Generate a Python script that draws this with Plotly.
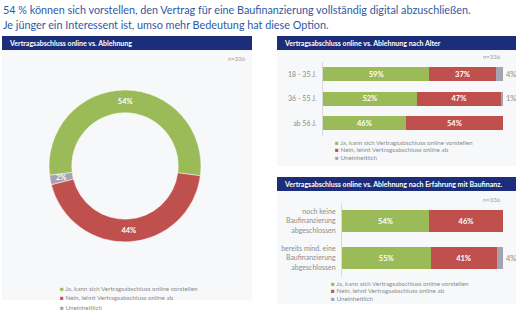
import math
import plotly.graph_objects as go

W, H = 516, 322

# ---- data -------------------------------------------------------------
series_names = [
    "Ja, kann sich Vertragsabschluss online vorstellen",
    "Nein, lehnt Vertragsabschluss online ab",
    "Uneinheitlich",
]
series_colors = ["#9bbb59", "#c0504d", "#a5a3b0"]

total_values = [54, 44, 2]

age_groups = ["18 - 35 J.", "36 - 55 J.", "ab 56 J."]
age_ja = [59, 52, 46]
age_nein = [37, 47, 54]
age_uneinh = [4, 1, 0]

exp_groups = [
    "noch keine<br>Baufinanzierung<br>abgeschlossen",
    "bereits mind. eine<br>Baufinanzierung<br>abgeschlossen",
]
exp_ja = [54, 55]
exp_nein = [46, 41]
exp_uneinh = [0, 4]

title_lines = [
    "54 % können sich vorstellen, den Vertrag für eine Baufinanzierung vollständig digital abzuschließen.",
    "Je jünger ein Interessent ist, umso mehr Bedeutung hat diese Option.",
]
panel_titles = [
    "Vertragsabschluss online vs. Ablehnung",
    "Vertragsabschluss online vs. Ablehnung nach Alter",
    "Vertragsabschluss online vs. Ablehnung nach Erfahrung mit Baufinanz.",
]
sample_label = "n=336"

# ---- helpers ----------------------------------------------------------
FONT = "Lato"
NAVY = "#1c2e79"
PANEL_BG = "#f7f8fa"
GREY_TXT = "#8c8c8c"


def px(x):
    return x / W


def py(y):
    return 1 - y / H


def pct(v):
    return [f"{x}%" if x else "" for x in v]


fig = go.Figure()

# donut geometry (pixels)
DONUT_CX, DONUT_CY, DONUT_R, DONUT_HOLE = 125, 166, 76, 0.70
DONUT_ROT = -97

# the thin last slice gets its label as an annotation so it is not shrunk
pie_texts = ["%{value}%"] * (len(total_values) - 1) + [""]

fig.add_trace(go.Pie(
    values=total_values,
    labels=series_names,
    marker=dict(colors=series_colors, line=dict(color="white", width=0.5)),
    hole=DONUT_HOLE,
    sort=False,
    direction="clockwise",
    rotation=DONUT_ROT,
    texttemplate=pie_texts,
    textposition="inside",
    insidetextorientation="horizontal",
    textfont=dict(family=FONT, size=7.5, color="white", weight="bold"),
    domain=dict(x=[px(DONUT_CX - DONUT_R), px(DONUT_CX + DONUT_R)],
                y=[py(DONUT_CY + DONUT_R), py(DONUT_CY - DONUT_R)]),
    showlegend=False,
    hoverinfo="label+percent",
))


def add_stack(groups, columns, xa, ya):
    for vals, name, col in zip(columns, series_names, series_colors):
        last = name == series_names[-1]
        fig.add_trace(go.Bar(
            y=groups, x=vals, orientation="h", name=name,
            marker=dict(color=col, line=dict(width=0)),
            text=pct(vals),
            textposition="outside" if last else "inside",
            insidetextanchor="middle",
            textfont=dict(family=FONT, size=7.5,
                          color=GREY_TXT if last else "white",
                          weight="normal" if last else "bold"),
            constraintext="none", cliponaxis=False,
            xaxis=xa, yaxis=ya, showlegend=False,
        ))


# stacked bars by age and by experience
add_stack(age_groups, [age_ja, age_nein, age_uneinh], "x", "y")
add_stack(exp_groups, [exp_ja, exp_nein, exp_uneinh], "x2", "y2")

shapes = []
annotations = []

# label of the last donut slice, placed mid-ring at the slice's mid angle
tot = sum(total_values)
mid_frac = (sum(total_values[:-1]) + total_values[-1] / 2) / tot
ang = math.radians(DONUT_ROT + 360 * mid_frac)
r_mid = DONUT_R * (1 + DONUT_HOLE) / 2
annotations.append(dict(xref="paper", yref="paper",
                        x=px(DONUT_CX + r_mid * math.sin(ang)),
                        y=py(DONUT_CY - r_mid * math.cos(ang)),
                        xanchor="center", yanchor="middle", showarrow=False,
                        text=f"<b>{total_values[-1]}%</b>",
                        font=dict(family=FONT, size=7.5, color="white")))

# panel backgrounds and header bars
panels = [
    (2, 252, 36, 300),
    (277, 516, 36, 166),
    (277, 516, 177, 304),
]
for (x0, x1, y0, y1), t in zip(panels, panel_titles):
    shapes.append(dict(type="rect", xref="paper", yref="paper", layer="below",
                       x0=px(x0), x1=px(x1), y0=py(y1), y1=py(y0 + 14),
                       fillcolor=PANEL_BG, line=dict(width=0)))
    shapes.append(dict(type="rect", xref="paper", yref="paper", layer="below",
                       x0=px(x0), x1=px(x1), y0=py(y0 + 14), y1=py(y0),
                       fillcolor=NAVY, line=dict(width=0)))
    annotations.append(dict(xref="paper", yref="paper", x=px(x0 + 5), y=py(y0 + 7),
                            xanchor="left", yanchor="middle", showarrow=False,
                            text=f"<b>{t}</b>",
                            font=dict(family=FONT, size=7, color="white")))

# sample size notes
for x, y in [(248, 58), (503, 56), (503, 199)]:
    annotations.append(dict(xref="paper", yref="paper", x=px(x), y=py(y),
                            xanchor="right", yanchor="middle", showarrow=False,
                            text=sample_label,
                            font=dict(family=FONT, size=6, color="#a0a0a0")))

# headline
for i, line in enumerate(title_lines):
    annotations.append(dict(xref="paper", yref="paper", x=px(1), y=py(10 + 14 * i),
                            xanchor="left", yanchor="middle", showarrow=False,
                            text=line,
                            font=dict(family=FONT, size=10.8, color="#2f5aa3")))

# legends
legend_specs = [(58, 288, 9.5, 6.3), (333, 142, 7.6, 6.3), (329, 283, 7.6, 6.3)]
for lx, ly, step, fs in legend_specs:
    for i, (name, col) in enumerate(zip(series_names, series_colors)):
        annotations.append(dict(xref="paper", yref="paper", x=px(lx), y=py(ly + step * i),
                                xanchor="left", yanchor="middle", showarrow=False,
                                text=f"<span style='color:{col}'>■</span> {name}",
                                font=dict(family=FONT, size=fs, color=GREY_TXT)))

axis_common = dict(showgrid=False, zeroline=False)
fig.update_layout(
    width=W, height=H,
    margin=dict(l=0, r=0, t=0, b=0),
    paper_bgcolor="white", plot_bgcolor="rgba(0,0,0,0)",
    barmode="stack",
    bargap=0.43,
    font=dict(family=FONT),
    xaxis=dict(domain=[px(323), px(503)], range=[0, 100], visible=False, **axis_common),
    yaxis=dict(domain=[py(135.5), py(62)], categoryorder="array", categoryarray=age_groups,
               autorange="reversed", showline=True, linecolor="#d9d9d9", linewidth=1,
               ticks="", tickfont=dict(family=FONT, size=7, color=GREY_TXT),
               ticklabelstandoff=4, **axis_common),
    xaxis2=dict(domain=[px(342), px(503)], range=[0, 100], visible=False, anchor="y2",
                **axis_common),
    yaxis2=dict(domain=[py(276.5), py(202.5)], categoryorder="array", categoryarray=exp_groups,
                autorange="reversed", anchor="x2", showline=True, linecolor="#d9d9d9",
                linewidth=1, ticks="", tickfont=dict(family=FONT, size=7, color=GREY_TXT),
                ticklabelstandoff=4, **axis_common),
    shapes=shapes,
    annotations=annotations,
)

fig.write_html("out.html")
